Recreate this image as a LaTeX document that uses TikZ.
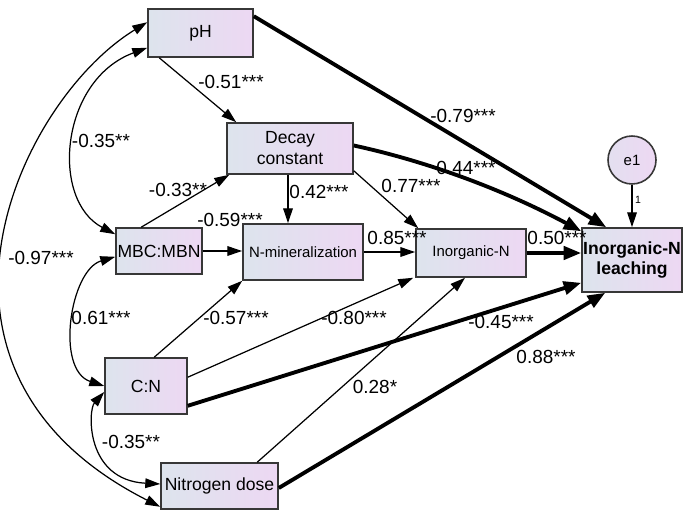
\documentclass[tikz,border=0pt]{standalone}
\usepackage{fontspec}
\setmainfont{Liberation Sans}
\usetikzlibrary{calc,arrows.meta}

\definecolor{boxleft}{RGB}{221,228,237}
\definecolor{boxright}{RGB}{237,216,243}
\definecolor{boxline}{RGB}{55,55,55}

\tikzset{
	var/.style={draw=boxline, line width=0.9pt, left color=boxleft, right color=boxright, inner sep=0pt, align=center, font=\fontsize{10}{12}\selectfont},
	errvar/.style={circle, draw=boxline, line width=0.9pt, left color=boxleft!60!boxright, right color=boxright, minimum size=0.96cm, inner sep=0pt, font=\fontsize{8.5}{10}\selectfont},
	effect/.style={line width=0.7pt, -{Triangle[length=8.5pt,width=5.5pt]}},
	strong/.style={line width=2.2pt, -{Triangle[length=10pt,width=7.5pt]}},
	corr/.style={line width=0.7pt, {Triangle[length=8.5pt,width=5.5pt]}-{Triangle[length=8.5pt,width=5.5pt]}},
	coef/.style={inner sep=0pt, font=\fontsize{10.8}{12}\selectfont},
}

\begin{document}
\begin{tikzpicture}[x=0.02cm, y=-0.02cm]
	%%%%% START %%%%%
	\useasboundingbox (0,0) rectangle (685,513);
	
	% variables
	\node[var, minimum width=2.1cm, minimum height=0.96cm] (ph) at (200.5,33) {pH};
	\node[var, minimum width=2.52cm, minimum height=1.02cm] (decay) at (290,148.5) {Decay\\constant};
	\node[var, minimum width=1.72cm, minimum height=0.92cm] (mbc) at (159,251) {MBC:MBN};
	\node[var, minimum width=2.4cm, minimum height=1.12cm, font=\fontsize{8.5}{10}\selectfont] (nmin) at (303,252) {N-mineralization};
	\node[var, minimum width=2.2cm, minimum height=0.96cm, font=\fontsize{8.5}{10}\selectfont] (inorg) at (471,253) {Inorganic-N};
	\node[var, minimum width=2.0cm, minimum height=1.28cm, font=\bfseries\fontsize{10}{11.5}\selectfont] (leach) at (632,260) {Inorganic-N\\leaching};
	\node[var, minimum width=1.64cm, minimum height=1.12cm] (cn) at (146,386) {C:N};
	\node[var, minimum width=2.34cm, minimum height=0.92cm] (ndose) at (219.5,486) {Nitrogen dose};
	\node[errvar] (e1) at (632,160) {e1};
	
	% paths
	\draw[effect] ($(ph.south west)+(12,0)$) -- ($(decay.north west)+(10,0)$);
	\draw[strong] ($(ph.north east)+(0,8)$) -- ($(leach.north west)+(25,0)$);
	\draw[strong] ($(decay.east)+(0,-3)$) .. controls (430,162) and (506,191) .. ($(leach.north west)+(0,4)$);
	\draw[effect] ($(decay.south east)+(0,-4)$) -- ($(inorg.north west)+(3,0)$);
	\draw[effect] ($(decay.south)+(-2,0)$) -- ($(decay.south |- nmin.north)+(-2,0)$);
	\draw[effect] ($(mbc.north west)+(26,0)$) -- ($(decay.south west)+(3,0)$);
	\draw[effect] (mbc.east) -- (nmin.west |- mbc.east);
	\draw[effect] (nmin.east) -- (inorg.west |- nmin.east);
	\draw[strong] (inorg.east) -- (leach.west |- inorg.east);
	\draw[effect] ($(cn.north west)+(50,0)$) -- (nmin.south west);
	\draw[effect] ($(cn.north east)+(0,20)$) -- ($(inorg.south west)+(-2,0)$);
	\draw[strong] ($(cn.south east)+(0,-9)$) -- ($(leach.south west)+(0,-10)$);
	\draw[effect] ($(ndose.north west)+(97,0)$) -- ($(inorg.south)+(-6,0)$);
	\draw[strong] ($(ndose.east)+(0,2)$) -- ($(leach.south west)+(24,0)$);
	\draw[effect] (e1.south) -- (leach.north);
	
	% correlations
	\draw[corr] ($(ph.south west)+(0,-10)$) .. controls (60,80) and (50,200) .. ($(mbc.north west)+(0,7)$);
	\draw[corr] ($(ph.north west)+(0,14)$) .. controls (20,100) and (-110,370) .. ($(ndose.south west)+(0,-3)$);
	\draw[corr] ($(mbc.south west)+(0,-18)$) .. controls (70,270) and (55,370) .. (cn.west);
	\draw[corr] ($(cn.west)+(0,6)$) .. controls (88,410) and (85,480) .. ($(ndose.west)+(0,-2)$);
	
	% coefficients
	\node[coef] (c1) at (231,82) {-0.51***};
	\node[coef] (c2) at (463,116) {-0.79***};
	\node[coef] (c3) at (466,168) {0.44***};
	\node[coef] (c4) at (411,186) {0.77***};
	\node[coef] (c5) at (319,192) {0.42***};
	\node[coef] (c6) at (178,190) {-0.33**};
	\node[coef] (c7) at (230,220) {-0.59***};
	\node[coef] (c8) at (397,238) {0.85***};
	\node[coef] (c9) at (557,238) {0.50***};
	\node[coef] (c10) at (236,318) {-0.57***};
	\node[coef] (c11) at (354,318) {-0.80***};
	\node[coef] (c12) at (501,322) {-0.45***};
	\node[coef] (c13) at (546,357) {0.88***};
	\node[coef] (c14) at (375,387) {0.28*};
	\node[coef] (c15) at (101,141) {-0.35**};
	\node[coef] (c16) at (41,258) {-0.97***};
	\node[coef] (c17) at (101,318) {0.61***};
	\node[coef] (c18) at (131,442) {-0.35**};
	\node[inner sep=0pt, font=\fontsize{6}{7}\selectfont] (one) at (638,200) {1};
	
	%%%%% END %%%%%
\end{tikzpicture}
\end{document}
